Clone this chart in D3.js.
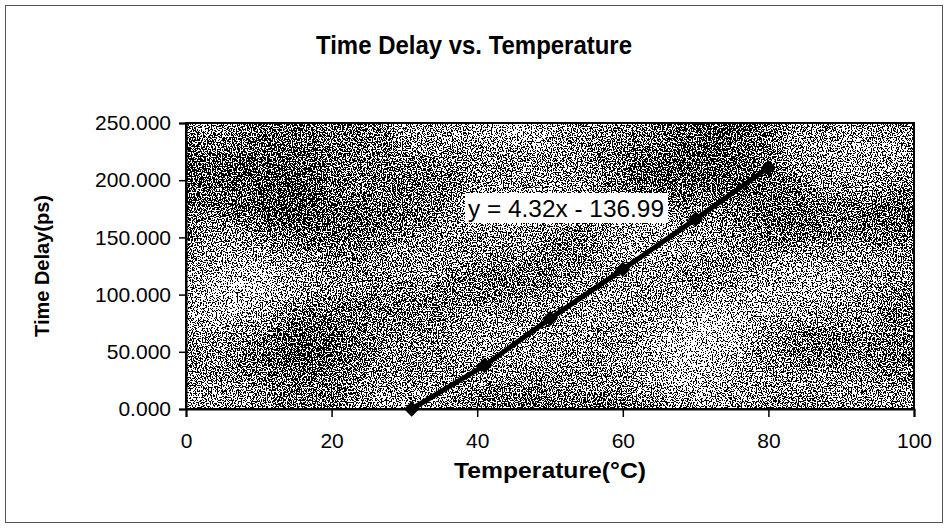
<!DOCTYPE html>
<html><head><meta charset="utf-8">
<script src="https://cdn.jsdelivr.net/npm/d3@7"></script>
<style>body{margin:0;background:#fff}svg{display:block}text{font-family:"Liberation Sans",Arial,sans-serif}</style>
</head><body>
<script>
const temperature = [31, 41, 50, 60, 70, 80];
const timeDelay = [0, 38, 79, 122, 166, 211];
const xTicks = [0, 20, 40, 60, 80, 100];
const yTicks = [0, 50, 100, 150, 200, 250];
const title = "Time Delay vs. Temperature";
const xLabel = "Temperature(°C)";
const yLabel = "Time Delay(ps)";
const eqLabel = "y = 4.32x - 136.99";

const W = 948, H = 529;
const svg = d3.select("body").append("svg").attr("width", W).attr("height", H);
const defs = svg.append("defs");
const f = defs.append("filter").attr("id","speckle").attr("x",0).attr("y",0).attr("width","100%").attr("height","100%")
  .attr("color-interpolation-filters","sRGB");
f.append("feTurbulence").attr("type","fractalNoise").attr("baseFrequency","0.8").attr("numOctaves",1).attr("seed",3).attr("result","fineRaw");
f.append("feColorMatrix").attr("in","fineRaw").attr("type","matrix")
  .attr("values","1 0 0 0 0  1 0 0 0 0  1 0 0 0 0  0 0 0 0 1").attr("result","fine");
f.append("feTurbulence").attr("type","fractalNoise").attr("baseFrequency","0.005 0.008").attr("numOctaves",2).attr("seed",11).attr("result","coarseRaw");
f.append("feColorMatrix").attr("in","coarseRaw").attr("type","matrix")
  .attr("values","1 0 0 0 0  1 0 0 0 0  1 0 0 0 0  0 0 0 0 1").attr("result","coarse");
f.append("feComposite").attr("in","fine").attr("in2","coarse").attr("operator","arithmetic")
  .attr("k1",0).attr("k2",2).attr("k3",0.5).attr("k4",-0.77).attr("result","mix");
f.append("feColorMatrix").attr("in","mix").attr("type","matrix")
  .attr("values","0 0 0 0 0  0 0 0 0 0  0 0 0 0 0  1 0 0 0 0").attr("result","a");
const ct = f.append("feComponentTransfer").attr("in","a").attr("result","bin");
ct.append("feFuncA").attr("type","discrete").attr("tableValues","0 1");
f.append("feFlood").attr("flood-color","#fff").attr("result","white");
f.append("feMerge").call(m=>{m.append("feMergeNode").attr("in","white");m.append("feMergeNode").attr("in","bin");});

// outer frame
svg.append("rect").attr("x",5.5).attr("y",5.5).attr("width",937).attr("height",517)
  .attr("fill","#fff").attr("stroke","#555").attr("stroke-width",1);

const m = {left:186, right:914, top:123, bottom:409};
const x = d3.scaleLinear().domain([0,100]).range([m.left, m.right]);
const y = d3.scaleLinear().domain([0,250]).range([m.bottom, m.top]);

svg.append("rect").attr("x",m.left).attr("y",m.top).attr("width",m.right-m.left).attr("height",m.bottom-m.top)
  .attr("fill","#888").attr("filter","url(#speckle)");
svg.append("rect").attr("x",m.left).attr("y",m.top).attr("width",m.right-m.left).attr("height",m.bottom-m.top)
  .attr("fill","none").attr("stroke","#000").attr("stroke-width",2);

const yAxis = svg.append("g").attr("transform",`translate(${m.left},0)`)
  .call(d3.axisLeft(y).tickValues(yTicks).tickFormat(d3.format(".3f")).tickSize(7).tickPadding(8));
const xAxis = svg.append("g").attr("transform",`translate(0,${m.bottom})`)
  .call(d3.axisBottom(x).tickValues(xTicks).tickSize(8).tickPadding(16));
[yAxis,xAxis].forEach(g=>{
  g.select(".domain").attr("stroke","#000").attr("stroke-width",2);
  g.selectAll(".tick line").attr("stroke","#000").attr("stroke-width",1.5);
  g.selectAll("text").attr("font-size",21).attr("fill","#000").attr("font-family","'Liberation Sans',Arial,sans-serif");
});

const pts = temperature.map((t,i)=>[t,timeDelay[i]]);
svg.append("path").datum(pts).attr("fill","none").attr("stroke","#000").attr("stroke-width",5)
  .attr("d", d3.line().x(d=>x(d[0])).y(d=>y(d[1])));
svg.selectAll(".pt").data(pts).join("path").attr("class","pt")
  .attr("transform",d=>`translate(${x(d[0])},${y(d[1])})`)
  .attr("d", d3.symbol(d3.symbolDiamond2, 150)()).attr("fill","#000");

// equation label
const eqX = 465, eqY = 193;
svg.append("rect").attr("x",eqX).attr("y",eqY).attr("width",203).attr("height",30).attr("fill","#fff");
svg.append("text").attr("x",eqX+101).attr("y",eqY+24).attr("text-anchor","middle").attr("font-size",23)
  .attr("textLength",196).attr("lengthAdjust","spacingAndGlyphs").attr("fill","#000").text(eqLabel);

svg.append("text").attr("x",474).attr("y",54).attr("text-anchor","middle").attr("font-size",25).attr("font-weight","bold")
  .attr("textLength",316).attr("lengthAdjust","spacingAndGlyphs").text(title);
svg.append("text").attr("x",550).attr("y",478).attr("text-anchor","middle").attr("font-size",22).attr("font-weight","bold")
  .attr("textLength",192).attr("lengthAdjust","spacingAndGlyphs").text(xLabel);
svg.append("text").attr("transform","translate(49,266) rotate(-90)").attr("text-anchor","middle").attr("font-size",20).attr("font-weight","bold").text(yLabel);
</script>
</body></html>
